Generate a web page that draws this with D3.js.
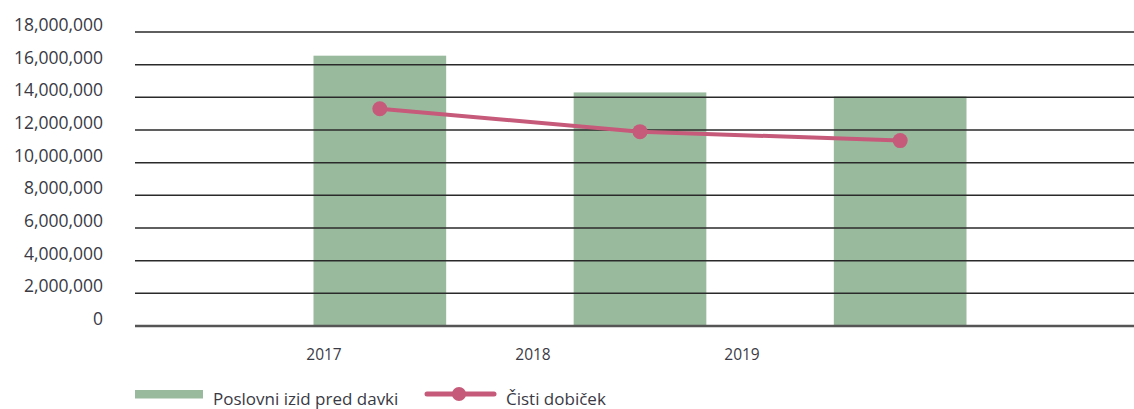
<!DOCTYPE html>
<html>
<head>
<meta charset="utf-8">
<script src="https://cdn.jsdelivr.net/npm/d3@7"></script>
<style>
  body { margin: 0; background: #fff; }
  text { font-family: "Open Sans", "Noto Sans", sans-serif; fill: #3a3a45; }
</style>
</head>
<body>
<div id="chart"></div>
<script>
const years = ['2017', '2018', '2019'];
const poslovniIzid = [16550000, 14300000, 14050000];
const cistiDobicek = [13300000, 11900000, 11350000];
const yTicks = [0, 2000000, 4000000, 6000000, 8000000, 10000000, 12000000, 14000000, 16000000, 18000000];

const width = 1134;
const height = 409;
const green = '#9aba9e';
const pink = '#c65a7a';

const svg = d3.select('#chart')
    .append('svg')
    .attr('width', width)
    .attr('height', height);

const y = d3.scaleLinear()
    .domain([0, 18000000])
    .range([326, 32]);

const x = d3.scaleBand()
    .domain(years)
    .range([186, 1094])
    .padding(0.49);

// year labels sit off-centre in the original
const xLabel = d3.scalePoint()
    .domain(years)
    .range([324, 742]);

const fmt = d3.format(',');

// bars
svg.append('g')
    .selectAll('rect')
    .data(poslovniIzid)
    .enter()
    .append('rect')
    .attr('x', (d, i) => x(years[i]))
    .attr('y', d => y(d))
    .attr('width', x.bandwidth())
    .attr('height', d => y(0) - y(d))
    .attr('fill', green);

// gridlines
svg.append('g')
    .selectAll('line')
    .data(yTicks)
    .enter()
    .append('line')
    .attr('x1', 135)
    .attr('x2', width)
    .attr('y1', d => y(d))
    .attr('y2', d => y(d))
    .attr('stroke', d => d === 0 ? '#555' : '#2a2a2a')
    .attr('stroke-width', d => d === 0 ? 2.5 : 1.5);

// y labels
svg.append('g')
    .selectAll('text')
    .data(yTicks)
    .enter()
    .append('text')
    .attr('x', 103)
    .attr('y', d => y(d) - 1)
    .attr('text-anchor', 'end')
    .style('font-size', '17.5px')
    .text(d => fmt(d));

// x labels
svg.append('g')
    .selectAll('text')
    .data(years)
    .enter()
    .append('text')
    .attr('x', d => xLabel(d))
    .attr('y', 360)
    .attr('text-anchor', 'middle')
    .style('font-size', '15.5px')
    .text(d => d);

// line
const line = d3.line()
    .x((d, i) => x(years[i]) + x.bandwidth() / 2)
    .y(d => y(d));

svg.append('path')
    .datum(cistiDobicek)
    .attr('d', line)
    .attr('fill', 'none')
    .attr('stroke', pink)
    .attr('stroke-width', 4);

svg.append('g')
    .selectAll('circle')
    .data(cistiDobicek)
    .enter()
    .append('circle')
    .attr('cx', (d, i) => x(years[i]) + x.bandwidth() / 2)
    .attr('cy', d => y(d))
    .attr('r', 7.5)
    .attr('fill', pink);

// legend
const legend = svg.append('g');
legend.append('rect')
    .attr('x', 135).attr('y', 390)
    .attr('width', 68).attr('height', 8.5)
    .attr('fill', green);
legend.append('text')
    .attr('x', 213).attr('y', 405)
    .style('font-size', '17px')
    .text('Poslovni izid pred davki');
legend.append('line')
    .attr('x1', 427).attr('x2', 494)
    .attr('y1', 394).attr('y2', 394)
    .attr('stroke', pink)
    .attr('stroke-width', 5)
    .attr('stroke-linecap', 'round');
legend.append('circle')
    .attr('cx', 459).attr('cy', 394)
    .attr('r', 7)
    .attr('fill', pink);
legend.append('text')
    .attr('x', 506).attr('y', 405)
    .style('font-size', '17px')
    .text('Čisti dobiček');
</script>
</body>
</html>
